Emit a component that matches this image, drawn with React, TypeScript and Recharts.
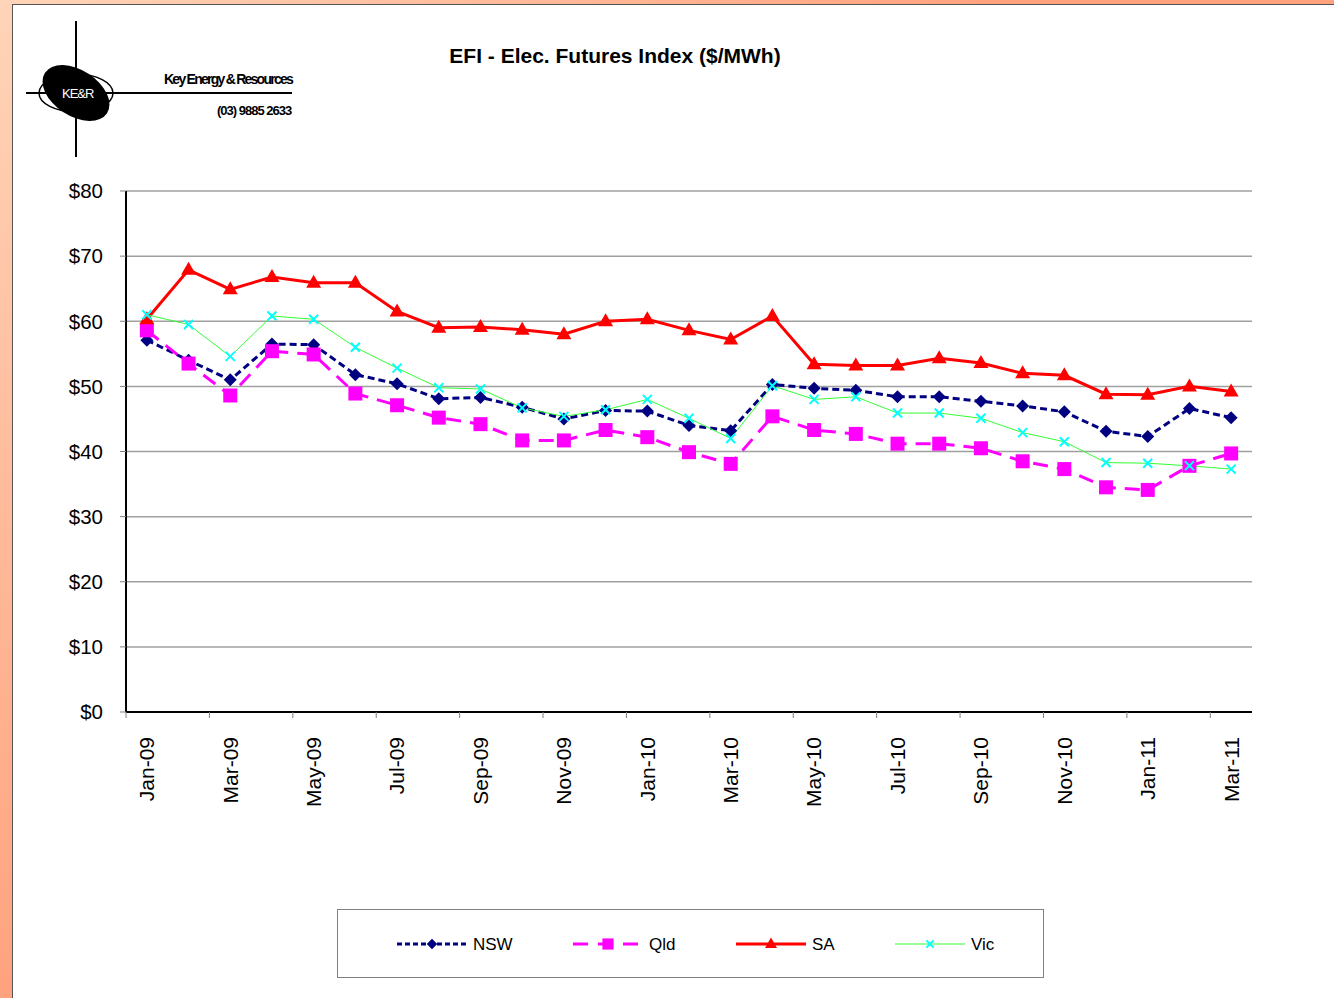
import React from 'react';
import { LineChart, Line, XAxis, YAxis, CartesianGrid } from 'recharts';

// monthly index values, Jan-09 .. Mar-11
const months = [
  'Jan-09', 'Feb-09', 'Mar-09', 'Apr-09', 'May-09', 'Jun-09', 'Jul-09', 'Aug-09', 'Sep-09',
  'Oct-09', 'Nov-09', 'Dec-09', 'Jan-10', 'Feb-10', 'Mar-10', 'Apr-10', 'May-10', 'Jun-10',
  'Jul-10', 'Aug-10', 'Sep-10', 'Oct-10', 'Nov-10', 'Dec-10', 'Jan-11', 'Feb-11', 'Mar-11',
];
const nsw = [57.1, 54.0, 51.0, 56.5, 56.4, 51.8, 50.4, 48.1, 48.3, 46.8, 45.0, 46.3, 46.2, 44.0,
  43.2, 50.3, 49.7, 49.4, 48.4, 48.4, 47.7, 47.0, 46.1, 43.1, 42.3, 46.6, 45.2];
const qld = [58.6, 53.5, 48.6, 55.4, 54.9, 48.9, 47.1, 45.2, 44.2, 41.7, 41.7, 43.3, 42.2, 39.9,
  38.1, 45.4, 43.3, 42.7, 41.2, 41.2, 40.5, 38.5, 37.3, 34.5, 34.1, 37.8, 39.7];
const sa = [60.3, 67.9, 64.9, 66.8, 65.9, 65.9, 61.5, 59.0, 59.1, 58.7, 58.0, 60.0, 60.3, 58.6,
  57.2, 60.8, 53.4, 53.2, 53.2, 54.3, 53.6, 52.0, 51.7, 48.8, 48.7, 50.0, 49.2];
const vic = [61.0, 59.5, 54.6, 60.8, 60.3, 56.0, 52.8, 49.8, 49.6, 46.7, 45.4, 46.4, 48.0, 45.1,
  42.0, 50.1, 48.0, 48.4, 45.9, 45.9, 45.1, 42.9, 41.5, 38.3, 38.2, 37.8, 37.3];
const yTicks = [0, 10, 20, 30, 40, 50, 60, 70, 80];

const data = months.map((m, i) => ({ month: m, NSW: nsw[i], Qld: qld[i], SA: sa[i], Vic: vic[i] }));

const FONT = 'Arial, "Liberation Sans", sans-serif';

type Shape = 'diamond' | 'square' | 'triangle' | 'cross';

const series: { key: string; color: string; marker: string; width: number; dash?: string; shape: Shape }[] = [
  { key: 'NSW', color: '#000080', marker: '#000080', width: 3, dash: '7 4', shape: 'diamond' },
  { key: 'Qld', color: '#FF00FF', marker: '#FF00FF', width: 3, dash: '15 9', shape: 'square' },
  { key: 'SA', color: '#FF0000', marker: '#FF0000', width: 3, shape: 'triangle' },
  { key: 'Vic', color: '#33FF33', marker: '#00FFFF', width: 1, shape: 'cross' },
];

const Marker = ({ cx, cy, shape, color, scale = 1 }: any) => {
  if (cx == null || cy == null) return null;
  const s = scale;
  if (shape === 'diamond') {
    const r = 6.5 * s;
    return <path d={`M${cx},${cy - r}L${cx + r},${cy}L${cx},${cy + r}L${cx - r},${cy}Z`} fill={color} />;
  }
  if (shape === 'square') {
    const r = 7 * s;
    return <rect x={cx - r} y={cy - r} width={2 * r} height={2 * r} fill={color} />;
  }
  if (shape === 'triangle') {
    const w = 7.5 * s;
    return <path d={`M${cx},${cy - 8 * s}L${cx + w},${cy + 5 * s}L${cx - w},${cy + 5 * s}Z`} fill={color} />;
  }
  const r = 4.5 * s;
  return (
    <path d={`M${cx - r},${cy - r}L${cx + r},${cy + r}M${cx - r},${cy + r}L${cx + r},${cy - r}`}
      stroke={color} strokeWidth={2} fill="none" />
  );
};

const MonthTick = ({ x, y, payload }: any) => {
  const half = payload && payload.offset ? payload.offset : 20.85;
  return (
    <g transform={`translate(${x},${y})`}>
      <line x1={-half} x2={-half} y1={-8} y2={-2} stroke="#808080" strokeWidth={1} />
      <text x={0} y={0} dy="0.35em" dx={-17} transform="rotate(-90)" textAnchor="end"
        fontSize={21} fontFamily={FONT} fill="#000">
        {payload.value}
      </text>
    </g>
  );
};

const Logo = () => (
  <svg width={310} height={170} style={{ position: 'absolute', left: 0, top: 0 }}>
    <ellipse cx={76} cy={93} rx={37} ry={19} fill="none" stroke="#000" strokeWidth={1.5} />
    <ellipse cx={76} cy={93} rx={37} ry={23} fill="#000" transform="rotate(33 76 93)" />
    <line x1={76} y1={21} x2={76} y2={157} stroke="#000" strokeWidth={2} />
    <line x1={26} y1={93} x2={292} y2={93} stroke="#000" strokeWidth={2} />
    <text x={62} y={98} fontSize={13} fontFamily={FONT} fill="#fff" letterSpacing={-1}>KE&amp;R</text>
    <text x={164} y={84} fontSize={14} fontFamily={FONT} fontWeight={600} fill="#000" letterSpacing={-1.75}>Key Energy &amp; Resources</text>
    <text x={217} y={115} fontSize={13} fontFamily={FONT} fontWeight={600} fill="#000" letterSpacing={-1}>(03) 9885 2633</text>
  </svg>
);

const legendX = [396, 572, 735, 894];

const ChartLegend = () => (
  <div style={{ position: 'absolute', left: 337, top: 909, width: 705, height: 67, border: '1px solid #808080', background: '#fff' }}>
    <svg width={705} height={67} style={{ position: 'absolute', left: 0, top: 0 }}>
      {series.map((s, i) => {
        const x0 = legendX[i] - 337;
        return (
          <g key={s.key}>
            <line x1={x0} x2={x0 + 70} y1={34} y2={34} stroke={s.color} strokeWidth={s.width}
              strokeDasharray={s.shape === 'diamond' ? '5 3' : s.shape === 'square' ? '15 10' : undefined} />
            <Marker cx={x0 + 35} cy={34} shape={s.shape} color={s.marker} scale={0.8} />
            <text x={x0 + 76} y={40} fontSize={17} fontFamily={FONT} fill="#000">{s.key}</text>
          </g>
        );
      })}
    </svg>
  </div>
);

const App = () => {
  return (
    <div style={{
      position: 'absolute', left: 0, top: 0, width: 1334, height: 998, overflow: 'hidden',
      background: 'radial-gradient(circle at 0 0, #FFD4B8 0px, #FFA27E 1000px)',
    }}>
      <div style={{ position: 'absolute', left: 12, top: 4, width: 1330, height: 1000, background: '#fff', border: '1px solid #555' }} />
      <Logo />
      <div style={{ position: 'absolute', left: 0, top: 44, width: 1230, textAlign: 'center', fontFamily: FONT, fontWeight: 'bold', fontSize: 21, color: '#000' }}>
        EFI - Elec. Futures Index ($/MWh)
      </div>
      <div style={{ position: 'absolute', left: 0, top: 0 }}>
        <LineChart width={1334} height={998} data={data} margin={{ top: 191, right: 82, bottom: 186, left: 66 }}>
          <CartesianGrid vertical={false} stroke="#A0A0A0" strokeWidth={1.5} />
          <XAxis dataKey="month" scale="band" interval={1} height={100} tickLine={false}
            axisLine={{ stroke: '#000', strokeWidth: 2 }} tick={<MonthTick />} />
          <YAxis domain={[0, 80]} ticks={yTicks} width={60} tickFormatter={(v) => `$${v}`}
            axisLine={{ stroke: '#000', strokeWidth: 2 }} tickLine={{ stroke: '#808080' }} tickSize={6} tickMargin={17}
            tick={{ fontSize: 20.5, fontFamily: FONT, fill: '#000' }} />
          <YAxis yAxisId="border" orientation="right" domain={[0, 80]} width={0} tick={false} tickLine={false}
            axisLine={{ stroke: '#999', strokeWidth: 2 }} />
          {series.map((s) => (
            <Line key={s.key} type="linear" dataKey={s.key} stroke={s.color} strokeWidth={s.width}
              strokeDasharray={s.dash} isAnimationActive={false}
              dot={(p: any) => <Marker key={`${s.key}-${p.index}`} cx={p.cx} cy={p.cy} shape={s.shape} color={s.marker} />}
              activeDot={false} />
          ))}
        </LineChart>
      </div>
      <ChartLegend />
    </div>
  );
};

export default App;
